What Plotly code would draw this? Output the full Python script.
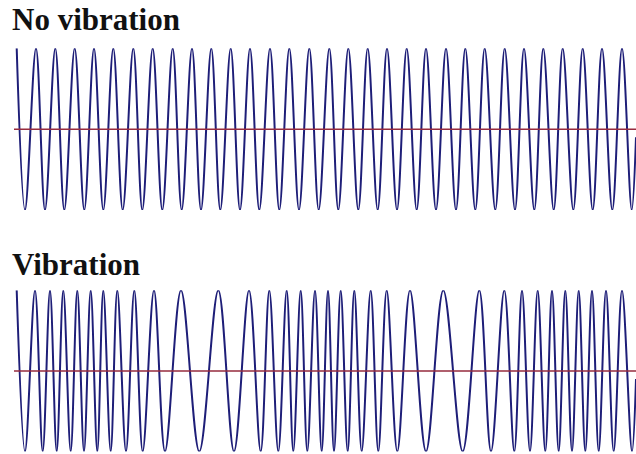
import plotly.graph_objects as go

W, H = 636, 454

# ---- data (x in pixel columns, y = signal level) ----
top_peaks_x = [16.7, 36, 55.3, 74.7, 94, 113.3, 133.3, 152.7, 172.7, 192, 211.3, 230.7,
               250, 270, 289.3, 309.3, 329.3, 348.3, 367.7, 387, 406.7, 426, 446, 465.3,
               484.7, 504.7, 524, 543.3, 562.7, 582.7, 602, 622]
top_troughs_x = [25, 45, 64.3, 84.3, 103.3, 122.7, 142.3, 162.3, 181.7, 201, 220.3, 240,
                 259.3, 279.3, 299, 318.7, 338.3, 358.3, 377.7, 397, 416.7, 436, 456, 475.3,
                 495.3, 515, 534.3, 553.7, 573.3, 592.7, 612.3, 631.7]

bot_peaks_x = [16.7, 35, 50, 63.3, 77.3, 90.7, 103.3, 117.3, 134.3, 154, 181, 218.3,
               249, 269.3, 286.7, 300.7, 315, 328, 340.7, 354.3, 370.7, 386.7, 410, 443.3,
               479.3, 504.3, 522, 537.7, 552, 565.3, 578.7, 592, 606, 622]
bot_troughs_x = [25, 42.7, 56.7, 70.7, 84, 97.3, 110.7, 126, 142.7, 165, 199.3, 234,
                 260.7, 278.3, 293.3, 307.3, 321.7, 334, 347.7, 361.7, 378.3, 397.3, 426, 462.7,
                 491, 514.3, 530, 545.3, 558.7, 572, 585.3, 598.7, 613.7, 632]

peak_level = 1.0
trough_level = -1.0
end_x, end_level = 636, -0.1

base_x = [14, 636]
base_y = [0, 0]

titles = ["No vibration", "Vibration"]


def wave(peaks, troughs):
    xs, ys = [], []
    for p, t in zip(peaks, troughs):
        xs += [p, t]
        ys += [peak_level, trough_level]
    xs.append(end_x)
    ys.append(end_level)
    return xs, ys


WAVE_COLOR = "#1e1e78"
BASE_COLOR = "#962b3e"

fig = go.Figure()
for i, (pk, tr) in enumerate([(top_peaks_x, top_troughs_x), (bot_peaks_x, bot_troughs_x)]):
    xs, ys = wave(pk, tr)
    xa = "x" if i == 0 else "x2"
    ya = "y" if i == 0 else "y2"
    fig.add_trace(go.Scatter(x=xs, y=ys, mode="lines", xaxis=xa, yaxis=ya,
                             line=dict(color=WAVE_COLOR, width=2, shape="spline", smoothing=1.0),
                             hoverinfo="skip"))
    fig.add_trace(go.Scatter(x=base_x, y=base_y, mode="lines", xaxis=xa, yaxis=ya,
                             line=dict(color=BASE_COLOR, width=1.5), hoverinfo="skip"))


def px2paper(py):
    return 1 - py / H


ax_common = dict(visible=False, showgrid=False, zeroline=False, fixedrange=True)
fig.update_layout(
    width=W, height=H,
    margin=dict(l=0, r=0, t=0, b=0),
    paper_bgcolor="white", plot_bgcolor="white",
    showlegend=False,
    xaxis=dict(range=[0, W], domain=[0, 1], anchor="y", **ax_common),
    xaxis2=dict(range=[0, W], domain=[0, 1], anchor="y2", **ax_common),
    yaxis=dict(range=[-1, 1], domain=[px2paper(210), px2paper(48.3)], anchor="x", **ax_common),
    yaxis2=dict(range=[-1, 1], domain=[px2paper(451.5), px2paper(290.3)], anchor="x2", **ax_common),
)

title_font = dict(family="Liberation Serif", size=31, color="#111111")
for txt, ytop in zip(titles, [0, 245]):
    fig.add_annotation(text="<b>%s</b>" % txt, xref="paper", yref="paper",
                       x=10 / W, y=px2paper(ytop), xanchor="left", yanchor="top",
                       showarrow=False, font=title_font)

fig.write_html("out.html", config={"displayModeBar": False},
               post_script="document.body.style.margin='0';document.body.style.overflow='hidden';")
